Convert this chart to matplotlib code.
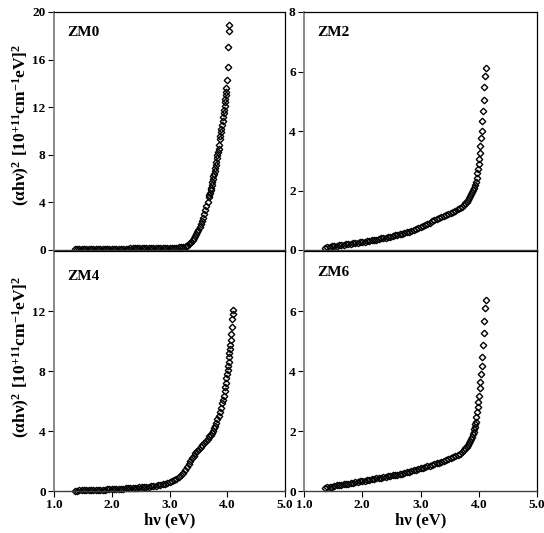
import matplotlib
matplotlib.use("Agg")
import matplotlib.pyplot as plt

plt.rcParams['font.family'] = ['Liberation Serif', 'DejaVu Serif']
plt.rcParams['font.weight'] = 'bold'
plt.rcParams['mathtext.fontset'] = 'custom'
plt.rcParams['mathtext.rm'] = 'Liberation Serif:bold'
plt.rcParams['mathtext.it'] = 'Liberation Serif:bold'
plt.rcParams['mathtext.bf'] = 'Liberation Serif:bold'

# photon energy (eV), shared low-energy part of the spectra
hv_low = [1.36, 1.40, 1.44, 1.48, 1.52, 1.56, 1.60, 1.64, 1.68, 1.72, 1.76, 1.80,
          1.84, 1.88, 1.92, 1.96, 2.00, 2.04, 2.08, 2.12, 2.16, 2.20, 2.24, 2.28,
          2.32, 2.36, 2.40, 2.44, 2.48, 2.52, 2.56, 2.60, 2.64, 2.68, 2.72, 2.76,
          2.80, 2.84, 2.88, 2.92, 2.96, 3.00, 3.04, 3.08, 3.12, 3.16, 3.20]

# (alpha h nu)^2 in 10^11 units
zm0_low = [0.05, 0.05, 0.05, 0.06, 0.06, 0.06, 0.07, 0.07, 0.07, 0.08, 0.08, 0.08,
           0.09, 0.09, 0.09, 0.10, 0.10, 0.10, 0.11, 0.11, 0.11, 0.12, 0.12, 0.12,
           0.13, 0.13, 0.13, 0.14, 0.14, 0.14, 0.15, 0.15, 0.15, 0.16, 0.16, 0.16,
           0.17, 0.17, 0.17, 0.18, 0.18, 0.19, 0.19, 0.20, 0.21, 0.22, 0.23]
zm2_low = [0.08, 0.10, 0.11, 0.12, 0.14, 0.15, 0.16, 0.17, 0.18, 0.19, 0.20, 0.21,
           0.22, 0.23, 0.25, 0.26, 0.27, 0.28, 0.29, 0.31, 0.32, 0.34, 0.35, 0.37,
           0.39, 0.40, 0.42, 0.44, 0.45, 0.47, 0.49, 0.51, 0.53, 0.55, 0.57, 0.60,
           0.62, 0.65, 0.68, 0.71, 0.74, 0.77, 0.80, 0.84, 0.88, 0.92, 0.96]
zm4_low = [0.03, 0.03, 0.04, 0.04, 0.05, 0.05, 0.06, 0.06, 0.07, 0.07, 0.08, 0.09,
           0.09, 0.10, 0.11, 0.11, 0.12, 0.13, 0.14, 0.14, 0.15, 0.16, 0.17, 0.18,
           0.19, 0.20, 0.21, 0.22, 0.24, 0.25, 0.27, 0.28, 0.30, 0.32, 0.34, 0.36,
           0.38, 0.41, 0.45, 0.49, 0.53, 0.58, 0.64, 0.71, 0.80, 0.91, 1.04]
zm6_low = [0.11, 0.12, 0.14, 0.15, 0.17, 0.19, 0.20, 0.21, 0.22, 0.24, 0.25, 0.27,
           0.28, 0.30, 0.31, 0.32, 0.34, 0.35, 0.37, 0.38, 0.39, 0.41, 0.42, 0.44,
           0.45, 0.46, 0.47, 0.49, 0.50, 0.52, 0.53, 0.55, 0.56, 0.58, 0.60, 0.62,
           0.64, 0.66, 0.69, 0.71, 0.74, 0.76, 0.78, 0.80, 0.83, 0.85, 0.87]

# absorption edge part, per sample
zm0_hv = [3.24, 3.28, 3.31, 3.34, 3.36, 3.38, 3.40, 3.42, 3.44, 3.46, 3.48, 3.50,
          3.52, 3.54, 3.56, 3.58, 3.60, 3.62, 3.64, 3.66, 3.68, 3.69, 3.70, 3.71,
          3.72, 3.73, 3.74, 3.75, 3.76, 3.77, 3.78, 3.79, 3.80, 3.81, 3.82, 3.83,
          3.84, 3.85, 3.86, 3.87, 3.88, 3.89, 3.90, 3.91, 3.92, 3.93, 3.94, 3.95,
          3.955, 3.96, 3.965, 3.97, 3.975, 3.98, 4.00, 4.005, 4.02, 4.028, 4.036]
zm0_y = [0.25, 0.30, 0.37, 0.47, 0.57, 0.69, 0.83, 0.98, 1.14, 1.32, 1.52, 1.72,
         1.94, 2.18, 2.44, 2.72, 3.02, 3.34, 3.68, 4.04, 4.42, 4.62, 4.82, 5.03,
         5.25, 5.48, 5.71, 5.94, 6.18, 6.42, 6.67, 6.92, 7.17, 7.43, 7.70, 7.97,
         8.24, 8.52, 8.80, 9.30, 9.60, 9.90, 10.2, 10.5, 10.85, 11.2, 11.5, 11.8,
         12.1, 12.4, 12.7, 13.0, 13.3, 13.6, 14.3, 15.4, 17.1, 18.4, 18.9]

zm2_hv = [3.24, 3.28, 3.32, 3.36, 3.40, 3.44, 3.48, 3.52, 3.56, 3.60, 3.64, 3.68,
          3.71, 3.74, 3.77, 3.79, 3.81, 3.83, 3.85, 3.87, 3.89, 3.905, 3.92, 3.935,
          3.95, 3.965, 3.975, 3.99, 4.00, 4.01, 4.02, 4.03, 4.045, 4.056, 4.06,
          4.08, 4.09, 4.096, 4.11, 4.125]
zm2_y = [1.00, 1.05, 1.09, 1.12, 1.15, 1.18, 1.21, 1.24, 1.28, 1.32, 1.37, 1.42,
         1.46, 1.52, 1.58, 1.63, 1.69, 1.75, 1.81, 1.88, 1.95, 2.02, 2.10, 2.18,
         2.30, 2.41, 2.58, 2.72, 2.88, 3.06, 3.25, 3.51, 3.75, 4.01, 4.35,
         4.68, 5.04, 5.47, 5.85, 6.13]

zm4_hv = [3.24, 3.27, 3.30, 3.33, 3.36, 3.39, 3.42, 3.45, 3.48, 3.51, 3.54, 3.57,
          3.60, 3.63, 3.66, 3.69, 3.71, 3.73, 3.75, 3.77, 3.79, 3.81, 3.83, 3.85,
          3.87, 3.89, 3.91, 3.925, 3.94, 3.955, 3.965, 3.975, 3.985, 3.995, 4.005,
          4.015, 4.022, 4.03, 4.036, 4.046, 4.053, 4.064, 4.07, 4.08, 4.09, 4.10, 4.105]
zm4_y = [1.22, 1.40, 1.58, 1.78, 1.98, 2.18, 2.36, 2.52, 2.68, 2.82, 2.95, 3.07,
         3.20, 3.33, 3.48, 3.64, 3.76, 3.88, 4.02, 4.18, 4.36, 4.56, 4.78, 5.02,
         5.28, 5.56, 5.84, 6.10, 6.36, 6.64, 6.92, 7.22, 7.52, 7.80, 8.07,
         8.33, 8.62, 8.91, 9.18, 9.44, 9.73, 10.1, 10.5, 10.95, 11.5, 11.8, 12.1]

zm6_hv = [3.24, 3.28, 3.32, 3.36, 3.40, 3.44, 3.48, 3.52, 3.56, 3.60, 3.64, 3.68,
          3.71, 3.74, 3.77, 3.79, 3.81, 3.83, 3.85, 3.87, 3.885, 3.90, 3.91, 3.92,
          3.93, 3.94, 3.95, 3.96, 3.97, 3.98, 3.995, 4.005, 4.02, 4.03, 4.04, 4.05,
          4.06, 4.075, 4.085, 4.09, 4.11, 4.125]
zm6_y = [0.90, 0.92, 0.95, 0.97, 1.00, 1.03, 1.06, 1.09, 1.12, 1.16, 1.21, 1.25,
         1.29, 1.36, 1.43, 1.48, 1.54, 1.60, 1.66, 1.73, 1.81, 1.90, 1.98, 2.06,
         2.14, 2.22, 2.31, 2.48, 2.64, 2.81, 2.98, 3.18, 3.42, 3.62, 3.90, 4.18,
         4.48, 4.87, 5.26, 5.67, 6.11, 6.37]

names = ['ZM0', 'ZM2', 'ZM4', 'ZM6']
y_max = [20, 8, 16, 8]
y_ticks = [[0, 4, 8, 12, 16, 20], [0, 2, 4, 6, 8], [0, 4, 8, 12], [0, 2, 4, 6]]
x_ticks = [1.0, 2.0, 3.0, 4.0, 5.0]

panels = [(hv_low + zm0_hv, zm0_low + zm0_y),
          (hv_low + zm2_hv, zm2_low + zm2_y),
          (hv_low + zm4_hv, zm4_low + zm4_y),
          (hv_low + zm6_hv, zm6_low + zm6_y)]

fig = plt.figure(figsize=(5.44, 5.33), dpi=100)
W, H = 544.0, 533.0
boxes = [(54, 12, 285, 250), (304, 12, 537, 250),
         (54, 251, 285, 491), (304, 251, 537, 491)]

for i, (x, y) in enumerate(panels):
    x0, y0, x1, y1 = boxes[i]
    ax = fig.add_axes([x0 / W, 1 - y1 / H, (x1 - x0) / W, (y1 - y0) / H])
    ax.plot(x, y, linestyle='none', marker='D', ms=3.3, mfc='none',
            mec='black', mew=1.0, clip_on=False)
    ax.set_xlim(1.0, 5.0)
    ax.set_ylim(0, y_max[i])
    ax.set_xticks(x_ticks)
    ax.set_yticks(y_ticks[i])
    ax.tick_params(direction='out', length=4, width=0.8, labelsize=9.5, pad=2)
    if i < 2:
        ax.set_xticklabels([])
    else:
        ax.set_xticklabels(['%.1f' % t for t in x_ticks])
        ax.set_xlabel(u'h\u03bd (eV)', fontsize=12, fontweight='bold', labelpad=1)
    for s in ['top', 'right']:
        ax.spines[s].set_color('black')
        ax.spines[s].set_linewidth(0.9)
    ax.spines['left'].set_color('#808080')
    ax.spines['left'].set_linewidth(1.3)
    ax.spines['bottom'].set_color('#404040')
    ax.spines['bottom'].set_linewidth(1.0)
    for lab in ax.get_xticklabels() + ax.get_yticklabels():
        lab.set_fontweight('bold')
    ty = 0.895 if i == 2 else 0.912
    ax.text(0.058, ty, names[i], transform=ax.transAxes, fontsize=11,
            fontweight='bold', ha='left', va='center')

ylab = r'$\mathbf{(\alpha h\nu)^2\ [10^{+11}cm^{-1}eV]^2}$'
fig.text(21 / W, 1 - 125 / H, ylab, rotation=90, ha='center', va='center', fontsize=12.5)
fig.text(21 / W, 1 - 357 / H, ylab, rotation=90, ha='center', va='center', fontsize=12.5)

fig.savefig('out.png', dpi=100)
